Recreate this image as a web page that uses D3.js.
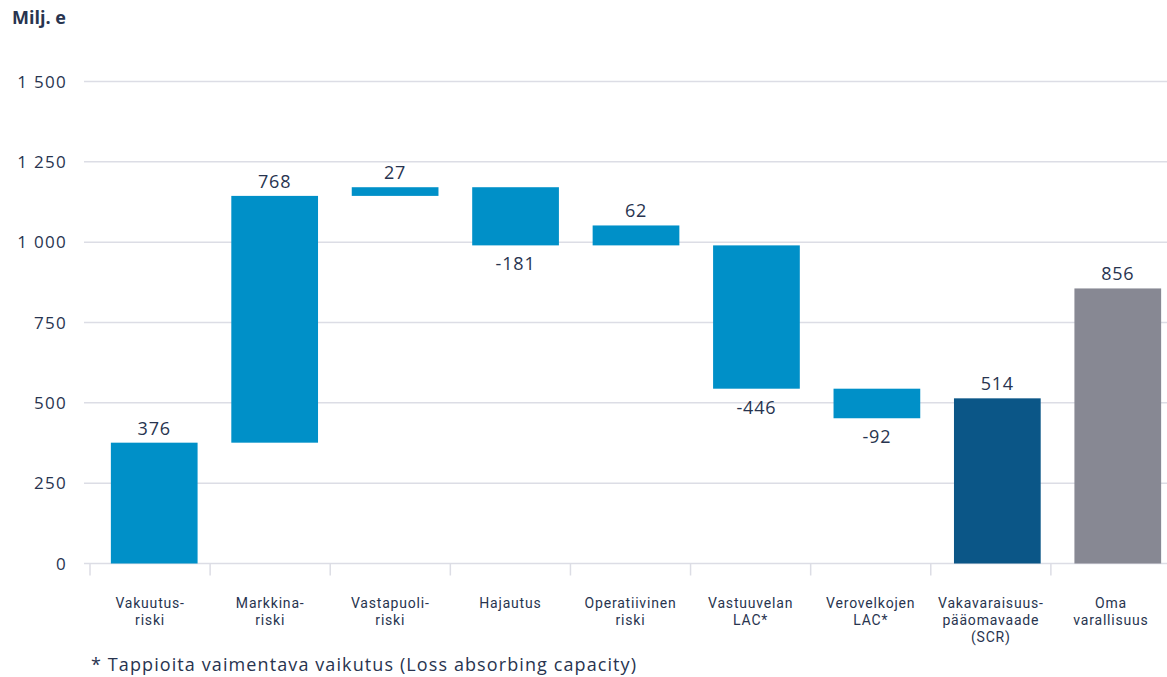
<!DOCTYPE html>
<html>
<head>
<meta charset="utf-8">
<script src="https://cdn.jsdelivr.net/npm/d3@7"></script>
<style>
  body { margin: 0; background: #fff; }
  text { font-family: "Open Sans", "DejaVu Sans", sans-serif; fill: #28344f; }
  .catLabel { font-family: Roboto, "Open Sans", sans-serif; }
</style>
</head>
<body>
<div id="chart"></div>
<script>
// chart values
var categories = ["Vakuutus-riski", "Markkina-riski", "Vastapuoli-riski", "Hajautus",
    "Operatiivinen riski", "Vastuuvelan LAC*", "Verovelkojen LAC*",
    "Vakavaraisuus-pääomavaade (SCR)", "Oma varallisuus"];
var labelLines = [["Vakuutus-", "riski"], ["Markkina-", "riski"], ["Vastapuoli-", "riski"], ["Hajautus"],
    ["Operatiivinen", "riski"], ["Vastuuvelan", "LAC*"], ["Verovelkojen", "LAC*"],
    ["Vakavaraisuus-", "pääomavaade", "(SCR)"], ["Oma", "varallisuus"]];
var values = [376, 768, 27, -181, 62, -446, -92, 514, 856];
// where each floating bar starts, as drawn in the source picture
var barStart = [0, 376, 1144, 1171, 990, 990, 544, 0, 0];
var barType = ["step", "step", "step", "step", "step", "step", "step", "total", "own"];
var yTicks = [0, 250, 500, 750, 1000, 1250, 1500];

var width = 1167, height = 677;
var colors = { step: "#0090c8", total: "#0b5687", own: "#878893" };

var svg = d3.select("#chart")
    .append("svg")
    .attr("width", width)
    .attr("height", height)

var y = d3.scaleLinear().domain([0, 1500]).range([563.5, 81.5]);
var xTick = d3.scaleBand().domain(categories).range([90, 1171]);
var x = d3.scaleBand().domain(categories).range([94, 1178])
    .paddingInner(0.28).paddingOuter(0.14);

var fmt = function(d) { return d3.format(",")(d).replace(/,/g, " "); };

// gridlines
svg.append("g")
    .selectAll("line")
    .data(yTicks)
    .enter().append("line")
    .attr("x1", 84)
    .attr("x2", width)
    .attr("y1", function(d){ return y(d); })
    .attr("y2", function(d){ return y(d); })
    .attr("stroke", "#dcdde5")
    .attr("stroke-width", 1.5)

// y tick labels
svg.append("g")
    .selectAll("text")
    .data(yTicks)
    .enter().append("text")
    .attr("x", 67)
    .attr("y", function(d){ return y(d) + 6; })
    .attr("text-anchor", "end")
    .attr("font-size", 17)
    .attr("letter-spacing", 1.3)
    .text(fmt)

// category separators
svg.append("g")
    .selectAll("line")
    .data(categories)
    .enter().append("line")
    .attr("x1", function(d){ return xTick(d); })
    .attr("x2", function(d){ return xTick(d); })
    .attr("y1", y(0))
    .attr("y2", y(0) + 12)
    .attr("stroke", "#dcdde5")
    .attr("stroke-width", 1.5)

// bars
svg.append("g")
    .selectAll("rect")
    .data(categories)
    .enter().append("rect")
    .attr("x", function(d){ return x(d); })
    .attr("width", x.bandwidth())
    .attr("y", function(d, i){ return y(Math.max(barStart[i], barStart[i] + values[i])); })
    .attr("height", function(d, i){ return Math.abs(y(barStart[i]) - y(barStart[i] + values[i])); })
    .attr("fill", function(d, i){ return colors[barType[i]]; })

// value labels
svg.append("g")
    .selectAll("text")
    .data(categories)
    .enter().append("text")
    .attr("x", function(d){ return x(d) + x.bandwidth() / 2; })
    .attr("y", function(d, i){
        var top = Math.max(barStart[i], barStart[i] + values[i]);
        var bottom = Math.min(barStart[i], barStart[i] + values[i]);
        return values[i] < 0 ? y(bottom) + 25 : y(top) - 8;
    })
    .attr("text-anchor", "middle")
    .attr("font-size", 18)
    .attr("letter-spacing", 0.8)
    .text(function(d, i){ return values[i]; })

// category labels, one text per line
categories.forEach(function(c, i) {
    svg.append("g")
        .attr("transform", "translate(" + (xTick(c) + xTick.bandwidth() / 2) + ",608)")
        .selectAll("text")
        .data(labelLines[i])
        .enter().append("text")
        .attr("class", "catLabel")
        .attr("y", function(d, j){ return j * 16.8; })
        .attr("text-anchor", "middle")
        .attr("font-size", 14)
        .attr("letter-spacing", 0.8)
        .text(function(d){ return d; })
})

svg.append("text")
    .attr("x", 12)
    .attr("y", 24)
    .attr("font-size", 18)
    .attr("font-weight", "bold")
    .text("Milj. e")

svg.append("text")
    .attr("x", 91)
    .attr("y", 671)
    .attr("font-size", 18)
    .attr("letter-spacing", 1.1)
    .text("* Tappioita vaimentava vaikutus (Loss absorbing capacity)")
</script>
</body>
</html>
